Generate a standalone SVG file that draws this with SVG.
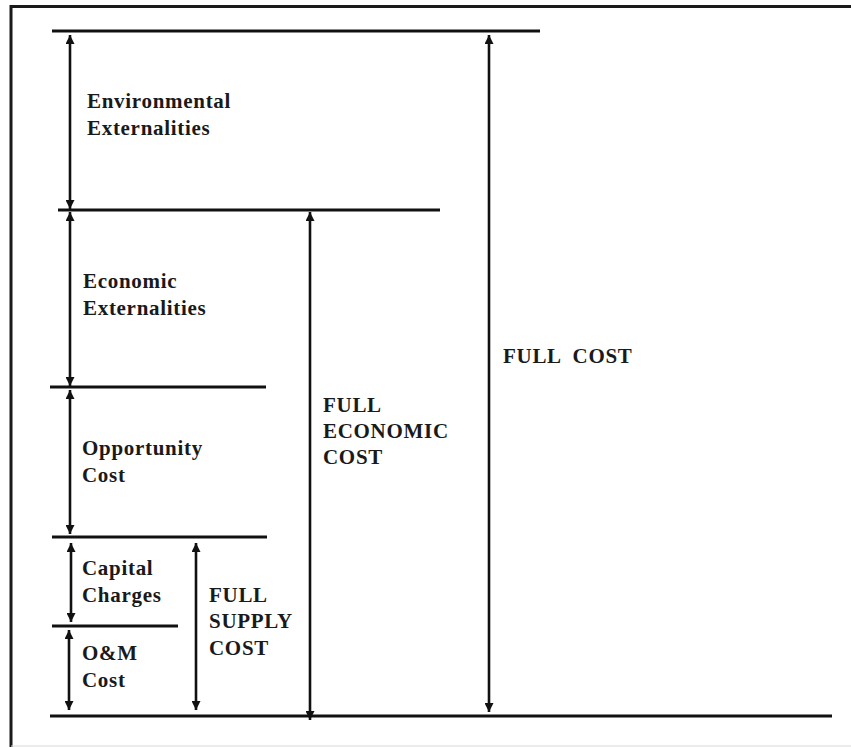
<svg xmlns="http://www.w3.org/2000/svg" width="851" height="747" viewBox="0 0 851 747">
  <style>
    .frame { stroke: #1a1a1a; stroke-width: 3; fill: none; }
    .edge { stroke: #d9d9d9; stroke-width: 1; }
    .level { stroke: #111; stroke-width: 3; stroke-linecap: butt; }
    .span { stroke: #111; stroke-width: 2.6; fill: none; marker-start: url(#head); marker-end: url(#head); }
    text { font-family: "Liberation Serif", "Times New Roman", serif; font-weight: bold; font-size: 21px; fill: #1a1a1a; letter-spacing: 0.7px; }
  </style>
  <defs>
    <marker id="head" viewBox="0 0 10 10" refX="10" refY="5" markerWidth="10" markerHeight="9" markerUnits="userSpaceOnUse" orient="auto-start-reverse">
      <path d="M0,0 L10,5 L0,10 Z" fill="#111"/>
    </marker>
  </defs>

  <rect width="851" height="747" fill="#fff"/>

  <!-- outer frame -->
  <g id="frame">
    <path class="frame" d="M11,747 V6.5 H851"/>
    <line class="edge" x1="11" y1="746" x2="851" y2="746"/>
  </g>

  <!-- cost level lines -->
  <g id="levels">
    <line class="level" x1="52" y1="31" x2="540" y2="31"/>
    <line class="level" x1="58" y1="210" x2="440" y2="210"/>
    <line class="level" x1="50" y1="387" x2="266" y2="387"/>
    <line class="level" x1="52" y1="537" x2="267" y2="537"/>
    <line class="level" x1="52" y1="626" x2="178" y2="626"/>
    <line class="level" x1="50" y1="716" x2="832" y2="716"/>
  </g>

  <!-- dimension arrows -->
  <g id="connectors">
    <line class="span" x1="70" y1="35" x2="70" y2="209"/>
    <line class="span" x1="70" y1="212" x2="70" y2="386"/>
    <line class="span" x1="70" y1="390" x2="70" y2="534"/>
    <line class="span" x1="71" y1="543" x2="71" y2="622"/>
    <line class="span" x1="69" y1="630" x2="69" y2="710"/>
    <line class="span" x1="196" y1="543" x2="196" y2="710"/>
    <line class="span" x1="310" y1="212" x2="310" y2="720"/>
    <line class="span" x1="489" y1="35" x2="489" y2="712"/>
  </g>

  <g id="environmental-externalities">
    <text x="87" y="108">Environmental</text>
    <text x="87" y="135">Externalities</text>
  </g>
  <g id="economic-externalities">
    <text x="83" y="288">Economic</text>
    <text x="83" y="315">Externalities</text>
  </g>
  <g id="opportunity-cost">
    <text x="82" y="455">Opportunity</text>
    <text x="82" y="482">Cost</text>
  </g>
  <g id="capital-charges">
    <text x="82" y="575">Capital</text>
    <text x="82" y="602">Charges</text>
  </g>
  <g id="om-cost">
    <text x="82" y="660">O&amp;M</text>
    <text x="82" y="687">Cost</text>
  </g>
  <g id="full-supply-cost">
    <text x="209" y="602">FULL</text>
    <text x="209" y="628">SUPPLY</text>
    <text x="209" y="655">COST</text>
  </g>
  <g id="full-economic-cost">
    <text x="323" y="412">FULL</text>
    <text x="323" y="438">ECONOMIC</text>
    <text x="323" y="464">COST</text>
  </g>
  <g id="full-cost">
    <text x="503" y="363" xml:space="preserve">FULL  COST</text>
  </g>
</svg>
